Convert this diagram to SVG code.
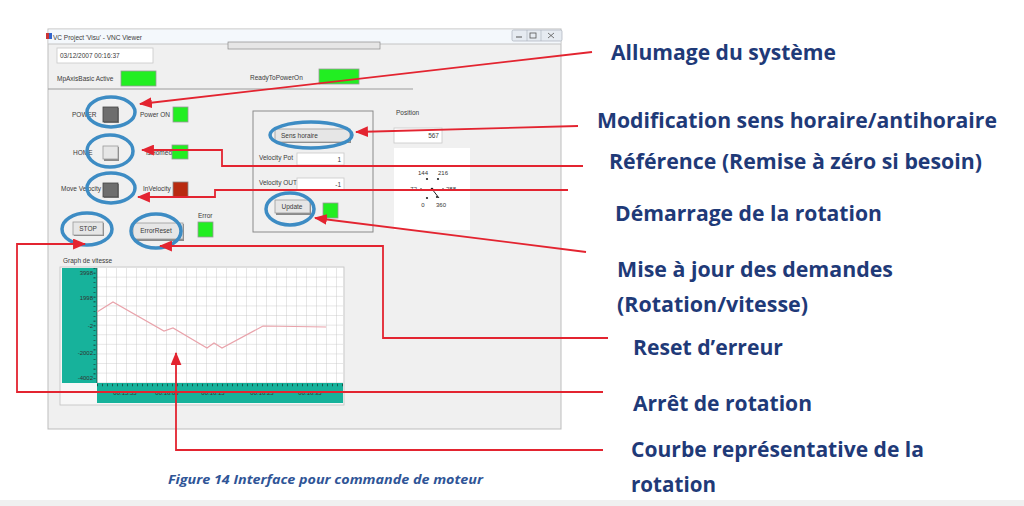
<svg xmlns="http://www.w3.org/2000/svg" width="1024" height="506" viewBox="0 0 1024 506">
<defs>
<style>
.ui{font-family:"Liberation Sans",Arial,sans-serif;font-size:6.5px;fill:#3a3a3a}
.sm{font-family:"Liberation Sans",Arial,sans-serif;font-size:6px;fill:#333}
.lbl{font-family:"Open Sans","Noto Sans",sans-serif;font-weight:700;font-size:21px;fill:#1f3a78}
.hl{fill:none;stroke:#3d8cc4;stroke-width:3.5}
.con{fill:none;stroke:#e32430;stroke-width:1.8}
.led{fill:#22ee22;stroke:#9a9a9a;stroke-width:0.8}
.btnd{fill:#6e6e6e;stroke:#444;stroke-width:0.8}
.btnl{fill:#e6e6e6;stroke:#9a9a9a;stroke-width:0.8}
.shd{fill:#8a8a8a}
.box{fill:#fff;stroke:#c8c8c8;stroke-width:0.8}
.teal{fill:#17b29b}
.dot{fill:#222}
</style>
<marker id="ah" viewBox="0 0 12 10" refX="11" refY="5" markerWidth="13" markerHeight="11" markerUnits="userSpaceOnUse" orient="auto"><path d="M0,0 L12,5 L0,10 z" fill="#e32430"/></marker>
<pattern id="grid" x="97" y="268" width="10" height="9.6" patternUnits="userSpaceOnUse"><path d="M10,0 V9.6 M0,9.6 H10" stroke="#c2c2c2" stroke-width="0.8" fill="none"/></pattern>
</defs>
<rect width="1024" height="506" fill="#fff"/>
<rect x="0" y="500" width="1024" height="6" fill="#f0f0f0"/>

<g id="window">
<rect x="48" y="29" width="513" height="400" fill="#f0f0f0" stroke="#bdbdbd" stroke-width="1"/>
<rect x="48.5" y="29.5" width="512" height="14.5" fill="#f4f8fc"/>
<line x1="48" y1="44" x2="561" y2="44" stroke="#c4c4c4"/>
<rect x="46" y="33" width="3" height="6" fill="#c33"/><rect x="49" y="33" width="3" height="6" fill="#36c"/>
<text class="ui" x="53" y="40">VC Project 'Visu' - VNC Viewer</text>
<rect x="512" y="30" width="50" height="11" rx="1.5" fill="#e6ebf1" stroke="#a9b0ba" stroke-width="0.7"/>
<line x1="527" y1="30" x2="527" y2="41" stroke="#a9b0ba" stroke-width="0.6"/>
<line x1="541" y1="30" x2="541" y2="41" stroke="#a9b0ba" stroke-width="0.6"/>
<line x1="516" y1="37" x2="522" y2="37" stroke="#555" stroke-width="1"/>
<rect x="530" y="33" width="6" height="5" fill="none" stroke="#555" stroke-width="0.8"/>
<path d="M548,33 L554,38 M554,33 L548,38" stroke="#555" stroke-width="0.8"/>
<rect x="228" y="42" width="152" height="7" fill="#e6e6e6" stroke="#8a8a8a" stroke-width="0.7"/>
<rect x="57" y="48" width="96" height="15" class="box"/>
<text class="ui" x="60" y="58">03/12/2007 00:16:37</text>
<text class="ui" x="57" y="81">MpAxisBasic Active</text>
<rect x="121" y="71" width="35" height="15" class="led"/>
<text class="ui" x="250" y="80">ReadyToPowerOn</text>
<rect x="319" y="69" width="40" height="15" class="led"/>
<line x1="48" y1="89" x2="413" y2="89" stroke="#9c9c9c" stroke-width="1"/>
</g>

<g id="power">
<text class="ui" x="72" y="117">POWER</text>
<rect x="104" y="108" width="15" height="15" class="shd"/>
<rect x="103" y="107" width="15" height="15" class="btnd"/>
<text class="ui" x="140" y="117">Power ON</text>
<rect x="173" y="107" width="15" height="15" class="led"/>
<ellipse cx="111" cy="112" rx="24" ry="15" class="hl"/>
</g>

<g id="home">
<text class="ui" x="73" y="155">HOME</text>
<rect x="104" y="147" width="15" height="14" class="shd"/>
<rect x="103" y="146" width="15" height="13" class="btnl"/>
<text class="ui" x="146" y="155">IsHomed</text>
<rect x="172" y="145" width="16" height="14" class="led"/>
<ellipse cx="110" cy="151" rx="23" ry="16" class="hl"/>
</g>

<g id="movevelocity">
<text class="ui" x="61" y="191">Move Velocity</text>
<rect x="104" y="184" width="15" height="14" class="shd"/>
<rect x="103" y="183" width="15" height="14" class="btnd"/>
<text class="ui" x="143" y="191">InVelocity</text>
<rect x="173" y="182" width="15" height="15" fill="#b82a10" stroke="#8a8a8a" stroke-width="0.8"/>
<ellipse cx="111" cy="188" rx="24" ry="15" class="hl"/>
</g>

<g id="stop">
<rect x="74" y="223" width="30" height="13" class="shd"/>
<rect x="73" y="222" width="30" height="13" class="btnl"/>
<text class="ui" x="88" y="231" text-anchor="middle" fill="#999">STOP</text>
<ellipse cx="87" cy="229" rx="25" ry="16" class="hl"/>
</g>

<g id="errorreset">
<rect x="134" y="224" width="50" height="17" class="shd"/>
<rect x="133" y="223" width="50" height="16" class="btnl"/>
<text class="ui" x="156" y="233" text-anchor="middle">ErrorReset</text>
<text class="ui" x="198" y="218">Error</text>
<rect x="198" y="222" width="15" height="15" class="led"/>
<ellipse cx="156" cy="231" rx="25" ry="17" class="hl"/>
</g>

<g id="commandbox">
<rect x="253" y="111" width="120" height="121" fill="none" stroke="#8a8a8a" stroke-width="1"/>
<rect x="276" y="130" width="75" height="13" class="shd"/>
<rect x="275" y="129" width="75" height="13" class="btnl"/>
<text class="ui" x="281" y="138">Sens horaire</text>
<ellipse cx="311" cy="135" rx="41" ry="13" class="hl"/>
<text class="ui" x="259" y="160">Velocity Pot</text>
<rect x="297" y="153" width="47" height="12" class="box"/>
<text class="ui" x="341" y="162" text-anchor="end" fill="#777">1</text>
<text class="ui" x="259" y="185">Velocity OUT</text>
<rect x="297" y="178" width="47" height="12" class="box"/>
<text class="ui" x="341" y="187" text-anchor="end" fill="#777">-1</text>
<rect x="276" y="201" width="35" height="14" class="shd"/>
<rect x="275" y="200" width="35" height="13" class="btnl"/>
<text class="ui" x="292" y="209" text-anchor="middle">Update</text>
<rect x="323" y="203" width="15" height="15" class="led"/>
<ellipse cx="290" cy="209" rx="24" ry="16" class="hl"/>
</g>

<g id="position">
<text class="ui" x="396" y="115">Position</text>
<rect x="394" y="128" width="48" height="15" class="box"/>
<text class="ui" x="439" y="138" text-anchor="end" fill="#999">567</text>
<rect x="394" y="148" width="76" height="82" fill="#fff"/>
<text class="sm" x="423" y="175" text-anchor="middle">144</text>
<text class="sm" x="443" y="175" text-anchor="middle">216</text>
<text class="sm" x="417" y="191" text-anchor="end">72</text>
<text class="sm" x="446" y="191">288</text>
<text class="sm" x="423" y="207" text-anchor="middle">0</text>
<text class="sm" x="441" y="207" text-anchor="middle">360</text>
<circle cx="427" cy="179" r="1.1" class="dot"/><circle cx="438" cy="179" r="1.1" class="dot"/>
<circle cx="421" cy="189" r="0.8" class="dot"/><circle cx="443" cy="189" r="0.8" class="dot"/>
<circle cx="427" cy="198" r="1.1" class="dot"/><circle cx="437" cy="197" r="1.1" class="dot"/>
<circle cx="432" cy="189" r="1.3" class="dot"/>
<line x1="432" y1="189" x2="439" y2="198" stroke="#222" stroke-width="1"/>
</g>

<g id="graph">
<text class="ui" x="63" y="263">Graph de vitesse</text>
<rect x="60" y="267" width="284" height="138" fill="#f7f7f7" stroke="#c0c0c0" stroke-width="0.8"/>
<rect x="62" y="268" width="35" height="115" class="teal"/>
<rect x="97" y="268" width="246" height="115" fill="#fff"/>
<rect x="97" y="268" width="246" height="115" fill="url(#grid)"/>
<line x1="97" y1="268" x2="97" y2="383" stroke="#1a1a1a" stroke-width="0.6"/>
<line x1="94.5" y1="268" x2="94.5" y2="383" stroke="#1a1a1a" stroke-width="2" stroke-dasharray="0.6 4.2"/>
<text class="sm" x="93" y="275" text-anchor="end">3998</text>
<text class="sm" x="93" y="300" text-anchor="end">1998</text>
<text class="sm" x="93" y="328" text-anchor="end">-2</text>
<text class="sm" x="93" y="355" text-anchor="end">-2002</text>
<text class="sm" x="93" y="380" text-anchor="end">-4002</text>
<rect x="97" y="383" width="246" height="20" class="teal"/>
<line x1="97" y1="385" x2="343" y2="385" stroke="#1a1a1a" stroke-width="2.5" stroke-dasharray="0.6 4.4"/>
<text class="sm" x="125" y="395" text-anchor="middle" fill="#0c3f35">00:15:55</text>
<text class="sm" x="167" y="395" text-anchor="middle" fill="#0c3f35">00:16:05</text>
<text class="sm" x="213" y="395" text-anchor="middle" fill="#0c3f35">00:16:15</text>
<text class="sm" x="262" y="395" text-anchor="middle" fill="#0c3f35">00:16:25</text>
<text class="sm" x="310" y="395" text-anchor="middle" fill="#0c3f35">00:16:35</text>
<polyline points="97,312 113,302 164,331 173,328 207,348 214,343 222,348 263,326 326,327" fill="none" stroke="#e9a3ab" stroke-width="1.2"/>
</g>

<g id="connectors">
<line class="con" x1="592" y1="52" x2="140" y2="104" marker-end="url(#ah)"/>
<line class="con" x1="578" y1="126" x2="356" y2="132" marker-end="url(#ah)"/>
<polyline class="con" points="583,166 222,166 222,150 142,150" marker-end="url(#ah)"/>
<polyline class="con" points="568,190 215,190 215,197 138,197" marker-end="url(#ah)"/>
<line class="con" x1="586" y1="252" x2="315" y2="218" marker-end="url(#ah)"/>
<polyline class="con" points="608,338 383,338 383,246 160,246" marker-end="url(#ah)"/>
<polyline class="con" points="603,392 17,392 17,244 85,244" marker-end="url(#ah)"/>
<polyline class="con" points="603,450 176,450 176,353" marker-end="url(#ah)"/>
</g>

<g id="labels">
<text class="lbl" x="611" y="60" textLength="225" lengthAdjust="spacingAndGlyphs">Allumage du système</text>
<text class="lbl" x="597" y="128" textLength="400" lengthAdjust="spacingAndGlyphs">Modification sens horaire/antihoraire</text>
<text class="lbl" x="609" y="169" textLength="373" lengthAdjust="spacingAndGlyphs">Référence (Remise à zéro si besoin)</text>
<text class="lbl" x="615" y="221" textLength="267" lengthAdjust="spacingAndGlyphs">Démarrage de la rotation</text>
<text class="lbl" x="617" y="277" textLength="276" lengthAdjust="spacingAndGlyphs">Mise à jour des demandes</text>
<text class="lbl" x="617" y="312" textLength="191" lengthAdjust="spacingAndGlyphs">(Rotation/vitesse)</text>
<text class="lbl" x="633" y="355" textLength="150" lengthAdjust="spacingAndGlyphs">Reset d’erreur</text>
<text class="lbl" x="633" y="411" textLength="179" lengthAdjust="spacingAndGlyphs">Arrêt de rotation</text>
<text class="lbl" x="631" y="457" textLength="293" lengthAdjust="spacingAndGlyphs">Courbe représentative de la</text>
<text class="lbl" x="631" y="492" textLength="85" lengthAdjust="spacingAndGlyphs">rotation</text>
<text x="168" y="484" font-family="'Open Sans','Noto Sans',sans-serif" font-weight="700" font-style="italic" font-size="13" fill="#2f5597" textLength="315" lengthAdjust="spacingAndGlyphs">Figure 14 Interface pour commande de moteur</text>
</g>
</svg>
